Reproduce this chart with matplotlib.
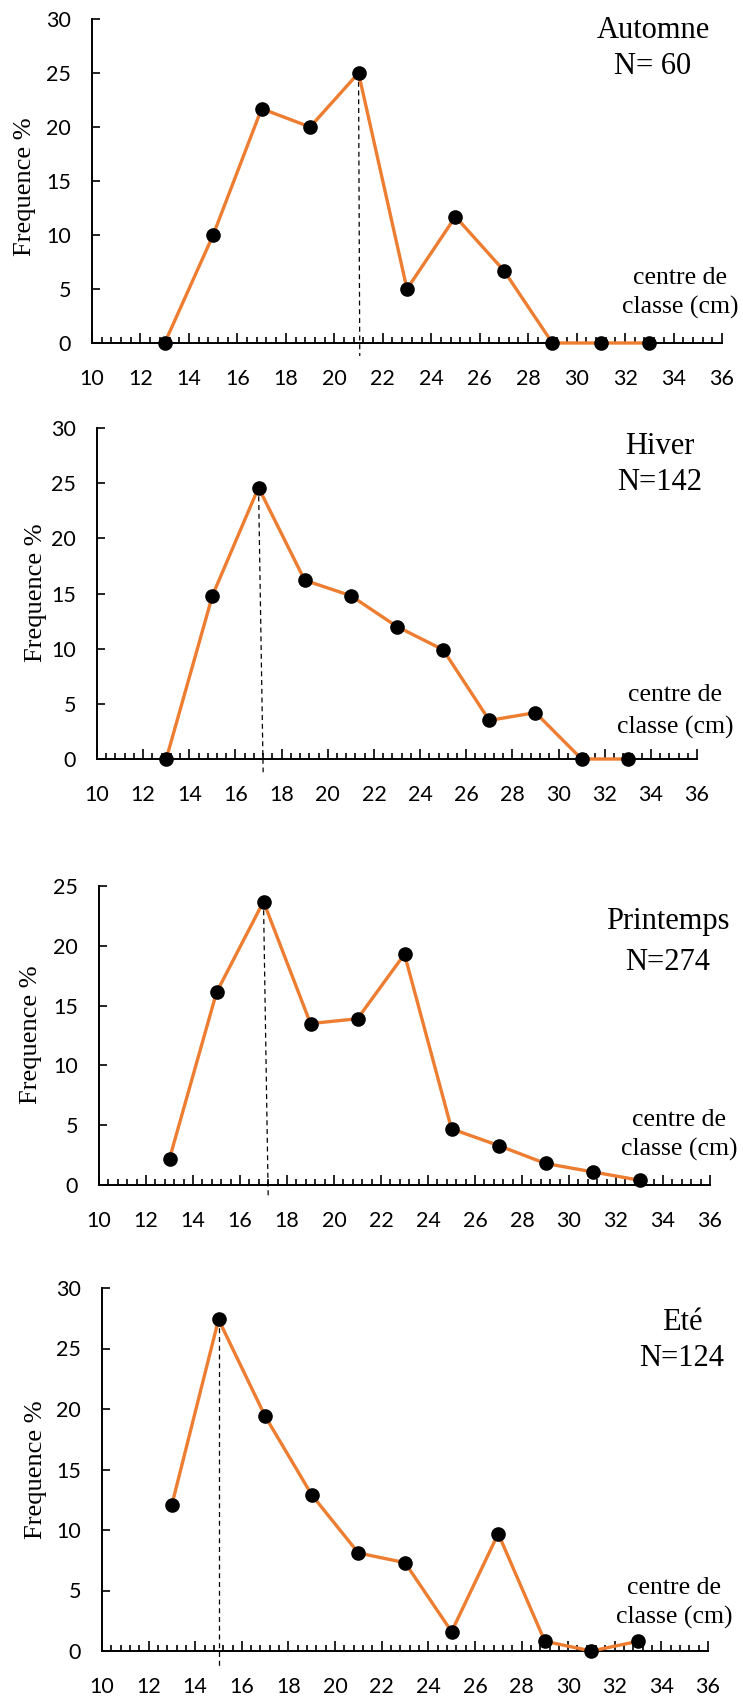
import matplotlib
matplotlib.use('Agg')
import matplotlib.pyplot as plt
from matplotlib.ticker import MultipleLocator

# centre de classe (cm) and frequency (%) per season
centres = [13, 15, 17, 19, 21, 23, 25, 27, 29, 31, 33]
automne = [0, 10.0, 21.7, 20.0, 25.0, 5.0, 11.7, 6.7, 0, 0, 0]
hiver = [0, 14.8, 24.6, 16.2, 14.8, 12.0, 9.9, 3.5, 4.2, 0, 0]
printemps = [2.2, 16.1, 23.7, 13.5, 13.9, 19.3, 4.7, 3.3, 1.8, 1.1, 0.4]
ete = [12.1, 27.4, 19.4, 12.9, 8.1, 7.3, 1.6, 9.7, 0.8, 0, 0.8]

saisons = ['Automne', 'Hiver', 'Printemps', 'Eté']
effectifs = ['N= 60', 'N=142', 'N=274', 'N=124']
series = [automne, hiver, printemps, ete]
modes = [21, 17, 17, 15]
ymax = [30, 30, 25, 30]

W, H = 743, 1697
# panel boxes in pixels: left, right, top, bottom
boxes = [(92, 722, 19, 343), (97, 697, 428, 759), (99, 710, 886, 1185), (102, 708, 1288, 1651)]
title_pos = [(653, 30, 67), (660, 447, 483), (668, 922, 962), (682, 1322, 1358)]
unit_pos = [(680, 278, 307), (675, 695, 727), (679, 1120, 1149), (674, 1588, 1617)]
ylab_pos = [(25, 187), (36, 593), (31, 1035), (36, 1470)]
lean = [0.05, 0.2, 0.2, 0.0]   # the dashed guide is slightly slanted in the original

orange = '#ED7D31'
serif = 'Liberation Serif'
sans = 'Lato'

fig = plt.figure(figsize=(W / 100, H / 100), dpi=100)


def fx(x):
    return x / W


def fy(y):
    return 1 - y / H


for i in range(4):
    l, r, t, b = boxes[i]
    ax = fig.add_axes([fx(l), fy(b), (r - l) / W, (b - t) / H])
    y = series[i]

    ax.plot(centres, y, color=orange, lw=2.4, zorder=3, clip_on=False)
    ax.plot(centres, y, 'o', color='black', ms=9.5, zorder=4, clip_on=False)

    peak = y[centres.index(modes[i])]
    ax.plot([modes[i], modes[i] + lean[i]], [peak, -0.04 * ymax[i]], ls=(0, (4, 3)),
            color='black', lw=0.9, zorder=2, clip_on=False)

    ax.set_xlim(10, 36)
    ax.set_ylim(0, ymax[i])
    ax.xaxis.set_major_locator(MultipleLocator(2))
    ax.xaxis.set_minor_locator(MultipleLocator(0.4))
    ax.yaxis.set_major_locator(MultipleLocator(5))

    for s in ['top', 'right']:
        ax.spines[s].set_visible(False)
    for s in ['left', 'bottom']:
        ax.spines[s].set_linewidth(1.4)

    ax.tick_params(axis='x', which='major', direction='in', length=7, width=1.2,
                   pad=19, labelsize=15.5)
    ax.tick_params(axis='x', which='minor', direction='in', length=4.5, width=1.2)
    ax.tick_params(axis='y', which='major', direction='in', length=6, width=1.2,
                   pad=15, labelsize=15.5)
    for lab in ax.get_xticklabels() + ax.get_yticklabels():
        lab.set_fontfamily(sans)

    tx, ty1, ty2 = title_pos[i]
    fig.text(fx(tx), fy(ty1), saisons[i], ha='center', va='center', fontsize=22, family=serif)
    fig.text(fx(tx), fy(ty2), effectifs[i], ha='center', va='center', fontsize=22, family=serif)

    ux, uy1, uy2 = unit_pos[i]
    fig.text(fx(ux), fy(uy1), 'centre de', ha='center', va='center', fontsize=18.5, family=serif)
    fig.text(fx(ux), fy(uy2), 'classe (cm)', ha='center', va='center', fontsize=18.5, family=serif)

    lx, ly = ylab_pos[i]
    fig.text(fx(lx), fy(ly), 'Frequence %', rotation=90, ha='center', va='center',
             fontsize=19, family=serif)

fig.savefig('out.png', dpi=100)
